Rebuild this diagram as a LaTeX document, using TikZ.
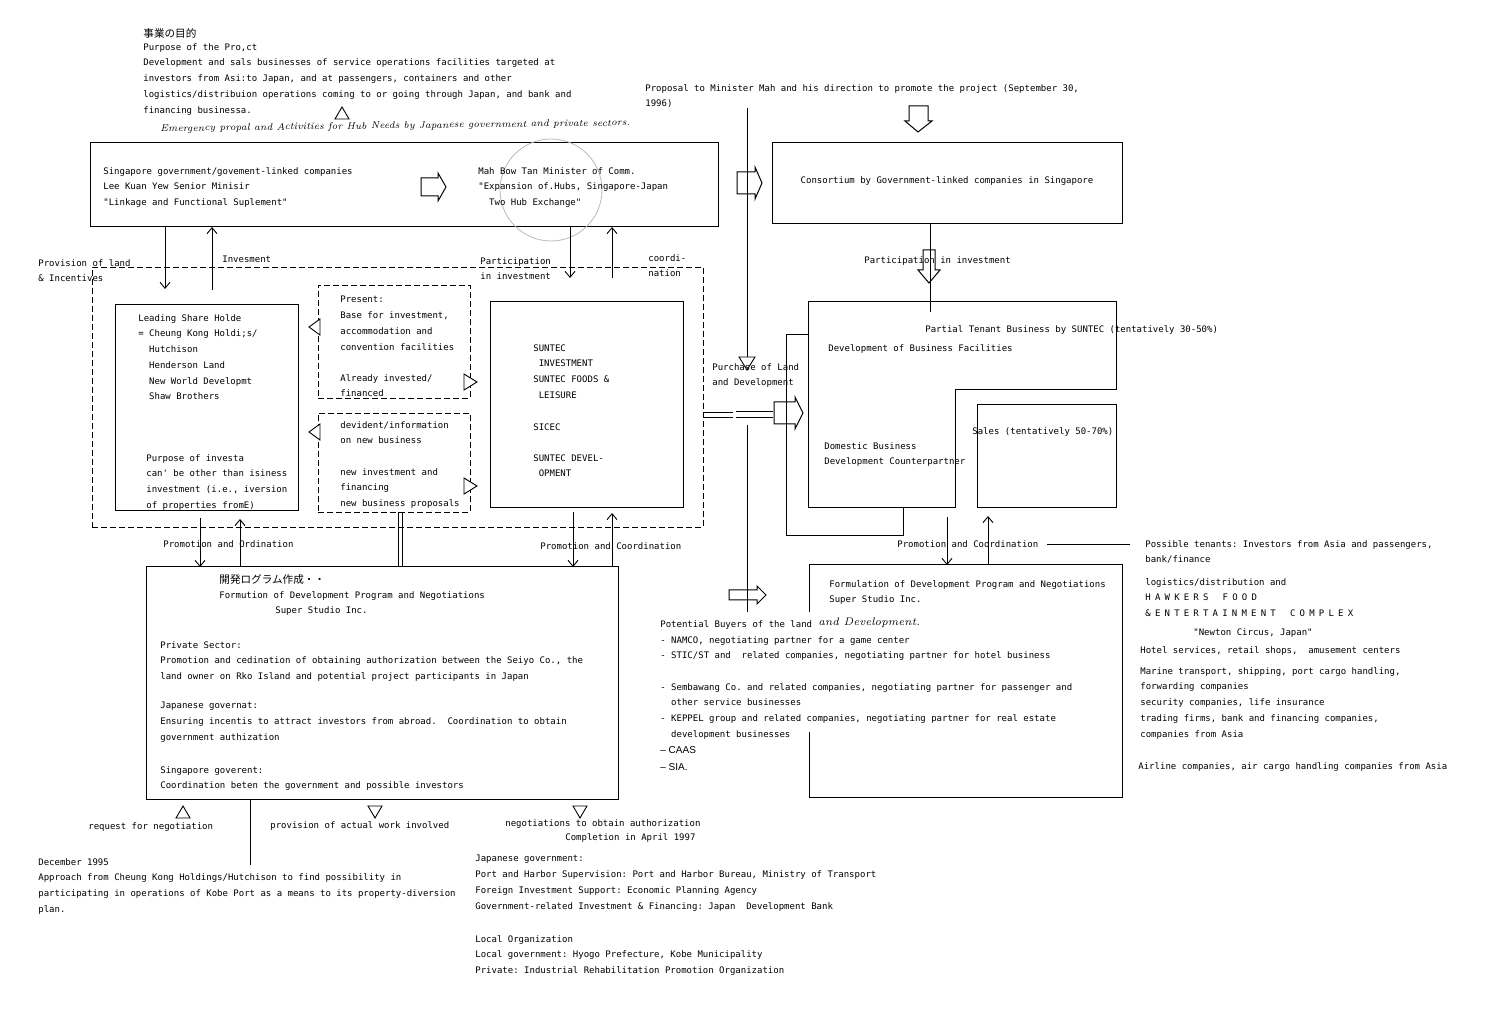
\documentclass[tikz,border=0pt]{standalone}
\usepackage{fontspec}
\setmonofont{DejaVu Sans Mono}
\newfontfamily\jpfont{Noto Sans CJK JP}
\newfontfamily\lsans{Liberation Sans}
\usetikzlibrary{arrows.meta}
\newcommand\twsz{\ttfamily\fontsize{4.5}{7.85}\selectfont}
\newcommand\jpsz{\jpfont\fontsize{5.3}{7}\selectfont}
\newcommand\handsz{\rmfamily\itshape\fontsize{4.9}{7}\selectfont}
\begin{document}
\begin{tikzpicture}[x=0.5pt,y=-0.5pt,
  tw/.style={font=\twsz, inner sep=0pt, anchor=north west, align=left},
  jp/.style={font=\jpsz, inner sep=0pt, anchor=west},
  hand/.style={font=\handsz, inner sep=0pt, anchor=west},
  box/.style={draw, line width=0.5pt, anchor=north west, inner sep=0pt, outer sep=0pt},
  dbox/.style={draw, line width=0.45pt, dash pattern=on 3pt off 1.5pt, anchor=north west, inner sep=0pt, outer sep=0pt},
  ln/.style={line width=0.45pt},
  arr/.style={line width=0.45pt, -{Straight Barb[length=3pt,width=5pt]}},
  tri/.style={draw, line width=0.45pt, fill=white},
  blk/.style={draw, line width=0.5pt}]
\useasboundingbox (0,0) rectangle (1500,1015);
\fill[white] (0,0) rectangle (1500,1015);

% ---------- boxes ----------
\node[box, minimum width=314pt, minimum height=42pt] (topL) at (90,143) {};
\node[box, minimum width=175pt, minimum height=40.5pt] (cons) at (772,143) {};
\node[dbox, minimum width=305.5pt, minimum height=130pt] (dbig) at (92,267) {};
\node[box, minimum width=91.5pt, minimum height=103pt] (lead) at (115,305) {};
\node[dbox, minimum width=76pt, minimum height=56.5pt] (dup) at (318,285) {};
\node[dbox, minimum width=76pt, minimum height=49.5pt] (dlo) at (318,413) {};
\node[box, minimum width=96.5pt, minimum height=103pt] (sun) at (490,302) {};
\node[box, minimum width=236pt, minimum height=116pt] (formL) at (146,567) {};
\node[box, minimum width=69.5pt, minimum height=51.5pt] (sales) at (977,405) {};
\node[anchor=north west, inner sep=0pt, outer sep=0pt, minimum width=156.5pt, minimum height=116pt] (formR) at (809,565) {};
\draw[line width=0.5pt] (809,612) -- (formR.north west) -- (formR.north east) -- (formR.south east) -- (formR.south west) -- (809,732);
\coordinate (Lbox) at (808,302);
\draw[line width=0.5pt] (Lbox) -- (1116,302) -- (1116,390) -- (955,390) -- (955,508) -- (808,508) -- cycle;

\draw[gray!55, line width=0.4pt] (551,190) circle [radius=25.5pt];

% ---------- connectors ----------
\draw[arr] (topL.south -| 165,0) -- (165,289);
\draw[arr] (212,290) -- (topL.south -| 212,0);
\draw[arr] (topL.south -| 570,0) -- (570,278);
\draw[arr] (612,278) -- (topL.south -| 612,0);
\draw[ln] (747,108) -- (747,357);
\draw[tri] (739,357) -- (755,357) -- (747,370) -- cycle;
\draw[ln] (747,425) -- (747,612);
\draw[ln] (cons.south -| 930,0) -- (930,312);
\draw[ln] (Lbox |- 0,334) -- (786,334) -- (786,535) -- (903,535) -- (903,508);
\draw[arr] (947,517) -- (formR.north -| 947,0);
\draw[arr] (formR.north -| 988,0) -- (988,516);
\draw[ln] (1047,544) -- (1130,544);
\draw[arr] (200,518) -- (formL.north -| 200,0);
\draw[arr] (formL.north -| 240,0) -- (240,519);
\draw[ln] (398,512) -- (formL.north -| 398,0);
\draw[ln] (402,512) -- (formL.north -| 402,0);
\draw[arr] (573,512) -- (formL.north -| 573,0);
\draw[arr] (formL.north -| 612,0) -- (612,513);
\draw[ln] (formL.south -| 250,0) -- (250,865);
\draw[ln] (dbig.east |- 0,412) -- (733,412);
\draw[ln] (dbig.east |- 0,417) -- (733,417);
\draw[ln] (736,411) -- (773,411);
\draw[ln] (736,417) -- (773,417);

% ---------- triangles ----------
\draw[tri] (335,119) -- (349,119) -- (342,107) -- cycle;
\draw[tri] (309,327) -- (320,319) -- (320,335) -- cycle;
\draw[tri] (477,382) -- (464,374) -- (464,390) -- cycle;
\draw[tri] (309,432) -- (320,424) -- (320,440) -- cycle;
\draw[tri] (477,486) -- (464,478) -- (464,494) -- cycle;
\draw[tri] (176,818) -- (190,818) -- (183,806) -- cycle;
\draw[tri] (368,806) -- (382,806) -- (375,818) -- cycle;
\draw[tri] (573,806) -- (587,806) -- (580,818) -- cycle;

% ---------- block arrows ----------
\draw[blk] (421,178) -- (438,178) -- (438,173) -- (446,187) -- (438,201) -- (438,196) -- (421,196) -- cycle;
\draw[blk] (737,172) -- (755,172) -- (755,167) -- (762,183) -- (755,199) -- (755,194) -- (737,194) -- cycle;
\draw[blk] (909,106) -- (928,106) -- (928,121) -- (932,121) -- (918,132) -- (905,121) -- (909,121) -- cycle;
\draw[blk] (923,250) -- (935,250) -- (935,270) -- (940,270) -- (929,283) -- (918,270) -- (923,270) -- cycle;
\draw[blk] (774,402) -- (795,402) -- (795,397) -- (803,413) -- (795,429) -- (795,424) -- (774,424) -- cycle;
\draw[blk] (729,590) -- (757,590) -- (757,586) -- (766,595) -- (757,604) -- (757,600) -- (729,600) -- cycle;

% ---------- texts ----------
\node[jp] (jp1) at (143,33) {事業の目的};
\node[tw] (purp) at (143,43) {Purpose of the Pro,ct\\
Development and sals businesses of service operations facilities targeted at\\
investors from Asi:to Japan, and at passengers, containers and other\\
logistics/distribuion operations coming to or going through Japan, and bank and\\
financing businessa.};
\node[hand, rotate=0.7] (emerg) at (160,129) {Emergency propal and Activities for Hub Needs by Japanese government and private sectors.};

\node[tw] (topLt) at (103,167) {Singapore government/govement-linked companies\\
Lee Kuan Yew Senior Minisir\\
"Linkage and Functional Suplement"};
\node[tw] (topRt) at (478,167) {Mah Bow Tan Minister of Comm.\\
"Expansion of.Hubs, Singapore-Japan\\
\hspace*{5.4pt}Two Hub Exchange"};
\node[tw] (prop) at (645,84) {Proposal to Minister Mah and his direction to promote the project (September 30,\\1996)};
\node[font=\twsz, inner sep=0pt] (const) at (947,181) {Consortium by Government-linked companies in Singapore};
\node[tw] (partinv) at (864,256) {Participation in investment};
\node[tw] (provl) at (38,259) {Provision of land\\\& Incentives};
\node[tw] (invl) at (222,256) {Invesment};
\node[tw] (partin) at (480,257) {Participation\\in investment};
\node[tw] (coord) at (648,254) {coordi-\\nation};

\node[tw] (leadt) at (138,314) {Leading Share Holde\\
= Cheung Kong Holdi;s/\\
\hspace*{5.4pt}Hutchison\\
\hspace*{5.4pt}Henderson Land\\
\hspace*{5.4pt}New World Developmt\\
\hspace*{5.4pt}Shaw Brothers};
\node[tw] (purpinv) at (146,454) {Purpose of investa\\
can' be other than isiness\\
investment (i.e., iversion\\
of properties fromE)};

\node[tw] (present) at (340,296) {Present:\\Base for investment,\\accommodation and\\convention facilities};
\node[tw] (already) at (340,374) {Already invested/\\financed};
\node[tw] (divid) at (340,421) {devident/information\\on new business};
\node[tw] (newinv) at (340,468) {new investment and\\financing\\new business proposals};

\node[tw] (sun1) at (533,344) {SUNTEC\\\hspace*{2.7pt}INVESTMENT\\SUNTEC FOODS \&\\\hspace*{2.7pt}LEISURE};
\node[tw] (sicec) at (533,423) {SICEC};
\node[tw] (sundev) at (533,454) {SUNTEC DEVEL-\\\hspace*{2.7pt}OPMENT};

\node[tw] (purch) at (712,363) {Purchase of Land\\and Development};
\node[tw] (partial) at (925,325) {Partial Tenant Business by SUNTEC (tentatively 30-50\%)};
\node[tw] (devbus) at (828,344) {Development of Business Facilities};
\node[tw] (domest) at (824,442) {Domestic Business\\Development Counterpartner};
\node[tw] (salest) at (972,427) {Sales (tentatively 50-70\%)};
\node[tw] (promR) at (897,540) {Promotion and Coordination};

\node[tw] (possib) at (1145,540) {Possible tenants: Investors from Asia and passengers,\\bank/finance};
\node[tw] (logist) at (1145,578) {logistics/distribution and\\
{\spaceskip=2.1pt H A W K E R S\hspace{5pt} F O O D}\\
{\spaceskip=2.1pt \& E N T E R T A I N M E N T\hspace{5pt} C O M P L E X}};
\node[tw] (newton) at (1193,628) {"Newton Circus, Japan"};
\node[tw] (hotel) at (1140,646) {Hotel services, retail shops,\ \ amusement centers};
\node[tw] (marine) at (1140,667) {Marine transport, shipping, port cargo handling,\\
forwarding companies\\
security companies, life insurance\\
trading firms, bank and financing companies,\\
companies from Asia};
\node[tw] (airl) at (1138,762) {Airline companies, air cargo handling companies from Asia};

\node[tw] (formRt) at (829,580) {Formulation of Development Program and Negotiations\\Super Studio Inc.};
\node[tw] (buyers) at (660,620) {Potential Buyers of the land};
\node[hand, font=\rmfamily\itshape\fontsize{5.5}{7}\selectfont] (buyh) at (818,623) {and Development.};
\node[tw] (namco) at (660,636) {- NAMCO, negotiating partner for a game center\\
- STIC/ST and\ \ related companies, negotiating partner for hotel business};
\node[tw] (semb) at (660,683) {- Sembawang Co. and related companies, negotiating partner for passenger and\\
\hspace*{5.4pt}other service businesses\\
- KEPPEL group and related companies, negotiating partner for real estate\\
\hspace*{5.4pt}development businesses};
\node[font=\lsans\fontsize{5}{8.5}\selectfont, inner sep=0pt, anchor=north west, align=left] (caas) at (660,746) {\textendash\ CAAS\\\textendash\ SIA.};

\node[jp] (jp2) at (219,580) {開発ログラム作成・・};
\node[tw] (formLt) at (219,591) {Formution of Development Program and Negotiations\\\hspace*{28pt}Super Studio Inc.};
\node[tw] (priv) at (160,641) {Private Sector:\\
Promotion and cedination of obtaining authorization between the Seiyo Co., the\\
land owner on Rko Island and potential project participants in Japan};
\node[tw] (japg) at (160,702) {Japanese governat:\\
Ensuring incentis to attract investors from abroad.\ \ Coordination to obtain\\
government authization};
\node[tw] (sing) at (160,766) {Singapore goverent:\\
Coordination beten the government and possible investors};

\node[tw] (promL) at (163,540) {Promotion and Ordination};
\node[tw] (promM) at (540,542) {Promotion and Coordination};

\node[tw] (req) at (88,822) {request for negotiation};
\node[tw] (provw) at (270,821) {provision of actual work involved};
\node[tw] (nego) at (505,819) {negotiations to obtain authorization};
\node[tw] (compl) at (565,833) {Completion in April 1997};

\node[tw] (dec) at (38,858) {December 1995\\
Approach from Cheung Kong Holdings/Hutchison to find possibility in\\
participating in operations of Kobe Port as a means to its property-diversion\\
plan.};
\node[tw] (japg2) at (475,855) {Japanese government:\\
Port and Harbor Supervision: Port and Harbor Bureau, Ministry of Transport\\
Foreign Investment Support: Economic Planning Agency\\
Government-related Investment \& Financing: Japan\ \ Development Bank};
\node[tw] (local) at (475,935) {Local Organization\\
Local government: Hyogo Prefecture, Kobe Municipality\\
Private: Industrial Rehabilitation Promotion Organization};
\end{tikzpicture}
\end{document}
